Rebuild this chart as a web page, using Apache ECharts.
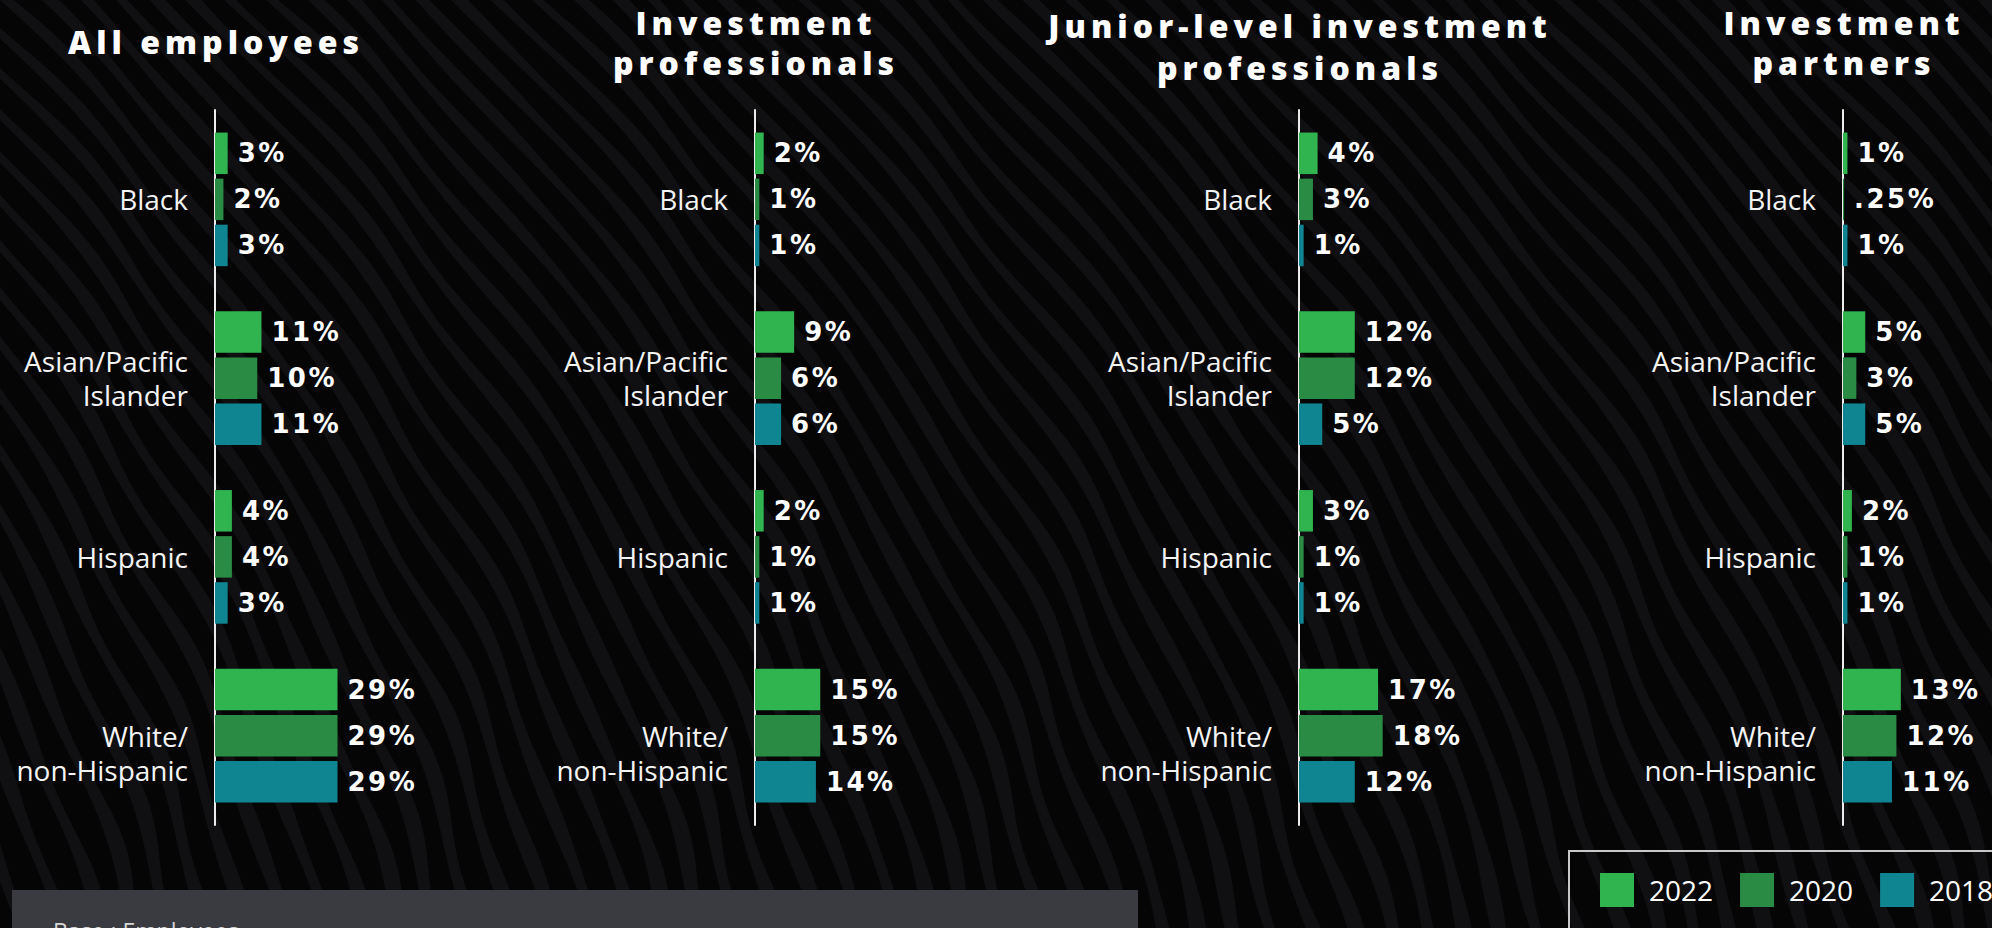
<!DOCTYPE html>
<html>
<head>
<meta charset="utf-8">
<script src="https://cdn.jsdelivr.net/npm/echarts@6/dist/echarts.min.js"></script>
<style>
  html, body { margin: 0; padding: 0; background: #060607; }
  #chart { width: 1992px; height: 928px; background-color: #060607; }
  /* tracked lettering for panel headings and value labels */
  #chart text[style*="32px"] { letter-spacing: 5px; }
  #chart text[style*="26px"] { letter-spacing: 2.5px; }
</style>
</head>
<body>
<div id="chart"></div>
<script>
// ---- data -------------------------------------------------------------
const categories = ['Black', 'Asian/Pacific\nIslander', 'Hispanic', 'White/\nnon-Hispanic'];
const years = ['2022', '2020', '2018'];
const panelTitles = [
  'All employees',
  'Investment\nprofessionals',
  'Junior-level investment\nprofessionals',
  'Investment\npartners'
];
// share of each group (%), one row per year (2022, 2020, 2018), columns follow `categories`
const allEmployees      = [[3, 11, 4, 29], [2, 10, 4, 29], [3, 11, 3, 29]];
const investmentPros    = [[2, 9, 2, 15],  [1, 6, 1, 15],  [1, 6, 1, 14]];
const juniorInvestPros  = [[4, 12, 3, 17], [3, 12, 1, 18], [1, 5, 1, 12]];
const investPartners    = [[1, 5, 2, 13],  [0.25, 3, 1, 12], [1, 5, 1, 11]];
const panels = [allEmployees, investmentPros, juniorInvestPros, investPartners];

// ---- layout & style ---------------------------------------------------
const yearColors = ['#30b44f', '#2a8c44', '#0f8592'];
const gridLeft   = [215, 755, 1299, 1843];
const gridWidth  = [169, 174, 186, 178];   // bar scale per panel (axis max 40)
const titleY     = [41, 42, 46, 42];
const titleLineHeight = [40, 40, 42, 40];
const GRID_TOP = 110, GRID_HEIGHT = 715;

// soft wavy diagonal texture behind the chart
function paintBackdrop() {
  const c = document.createElement('canvas');
  c.width = 1992; c.height = 928;
  const g = c.getContext('2d');
  g.fillStyle = '#050506';
  g.fillRect(0, 0, c.width, c.height);
  g.fillStyle = '#101013';
  const bend = y => y - 0.0004 * y * y;
  for (let k = -20; k < 56; k++) {
    const x0 = k * 38;
    g.beginPath();
    for (let y = -10; y <= 940; y += 8) {
      const x = x0 + bend(y) + 5 * Math.sin(y / 45 + k * 0.9);
      if (y === -10) g.moveTo(x, y); else g.lineTo(x, y);
    }
    for (let y = 940; y >= -10; y -= 8) {
      const x = x0 + 14 + 3 * Math.sin(y / 30 + k * 1.7) + bend(y) + 5 * Math.sin(y / 45 + k * 0.9);
      g.lineTo(x, y);
    }
    g.closePath();
    g.fill();
  }
  return c.toDataURL();
}
document.getElementById('chart').style.backgroundImage = 'url(' + paintBackdrop() + ')';

const chart = echarts.init(document.getElementById('chart'), null, { renderer: 'svg' });

const grids = [], xAxes = [], yAxes = [], series = [], graphics = [];

// the last group's label sits one line lower, its first line level with the middle bar
const categoryLabel = (value, index) => (index === categories.length - 1 ? '\n' + value : value);

panels.forEach((rows, p) => {
  grids.push({
    left: gridLeft[p], top: GRID_TOP, width: gridWidth[p], height: GRID_HEIGHT,
    outerBoundsMode: 'none', containLabel: false
  });
  xAxes.push({ type: 'value', gridIndex: p, min: 0, max: 40, show: false });
  yAxes.push({
    type: 'category', gridIndex: p, data: categories, inverse: true,
    axisLine: { show: true, lineStyle: { color: '#ececec', width: 2 } },
    axisTick: { show: false },
    axisLabel: {
      color: '#f4f4f4', fontSize: 28, fontFamily: "'Open Sans', sans-serif",
      margin: 27, lineHeight: 34, align: 'right', formatter: categoryLabel
    },
    splitLine: { show: false }
  });
  rows.forEach((vals, yi) => {
    series.push({
      type: 'bar', name: years[yi], xAxisIndex: p, yAxisIndex: p,
      data: vals, barWidth: 41.5, barGap: '11%',
      itemStyle: { color: yearColors[yi] },
      label: {
        show: true, position: 'right', distance: 10,
        color: '#ffffff', fontSize: 26, fontWeight: 'bold',
        fontFamily: "'DejaVu Sans', sans-serif",
        formatter: d => (d.value < 1 ? String(d.value).replace(/^0/, '') : d.value) + '%'
      }
    });
  });
  graphics.push({
    type: 'text', x: gridLeft[p] + 1, y: titleY[p],
    style: {
      text: panelTitles[p], fill: '#ffffff', align: 'center', verticalAlign: 'middle',
      font: "800 32px 'Open Sans', sans-serif", lineHeight: titleLineHeight[p]
    }
  });
});

// base note panel, bottom left
graphics.push({
  type: 'rect', shape: { x: 12, y: 890, width: 1126, height: 60 },
  style: { fill: '#3a3b40' }
});
graphics.push({
  type: 'text', x: 53, y: 931,
  style: {
    text: 'Base : Employees', fill: '#d6d6d6', align: 'left', verticalAlign: 'middle',
    font: "23px 'Open Sans', sans-serif"
  }
});

chart.setOption({
  backgroundColor: 'transparent',
  animation: false,
  grid: grids,
  xAxis: xAxes,
  yAxis: yAxes,
  series: series,
  legend: {
    data: years, left: 1569, top: 851, width: 440, orient: 'horizontal',
    icon: 'rect', itemWidth: 34, itemHeight: 34, itemGap: 27,
    padding: [22, 60, 30, 31], borderColor: '#c9c9c9', borderWidth: 2,
    selectedMode: false,
    formatter: '{t|{name}}',
    textStyle: {
      color: '#ffffff', fontSize: 28, fontFamily: "'Open Sans', sans-serif",
      rich: { t: { color: '#ffffff', fontSize: 28, fontFamily: "'Open Sans', sans-serif", padding: [0, 0, 0, 10] } }
    }
  },
  graphic: graphics
});
</script>
</body>
</html>
